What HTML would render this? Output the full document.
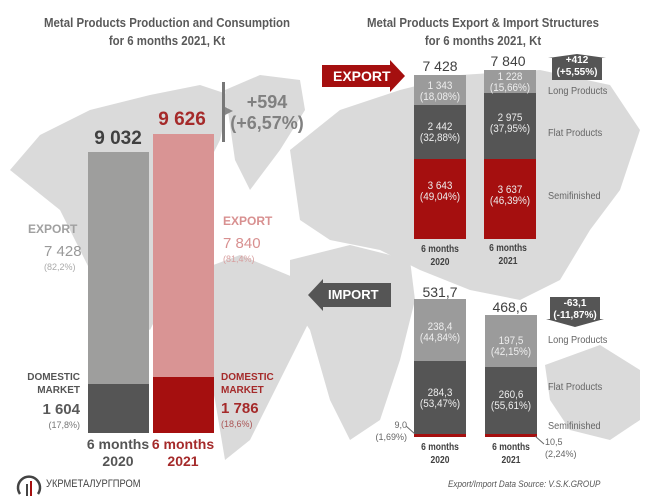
<!DOCTYPE html>
<html><head><meta charset="utf-8"><style>
body{margin:0;width:667px;height:500px;background:#fff;position:relative;overflow:hidden;font-family:"Liberation Sans","Noto Sans CJK SC",sans-serif}
.a{position:absolute;white-space:nowrap}
.c{transform:translateX(-50%);text-align:center}
.t{font-weight:bold;color:#595959;font-size:13px;line-height:18px;transform:translateX(-50%) scaleX(.88);text-align:center}
.b{position:absolute}
.w{color:#eee;font-size:11px;line-height:11px;text-align:center;position:absolute;transform:translateX(-50%) scaleX(.9);white-space:nowrap}
.g{color:#666;font-size:10px;transform:scaleX(.92);transform-origin:left}
.xl{font-size:10px;font-weight:bold;color:#404040;line-height:13px;text-align:center;transform:translateX(-50%) scaleX(.85)}
</style></head><body>
<svg class="b" style="left:0;top:0" width="667" height="500">
<g fill="#dadada">
<path d="M10,170 L40,135 L90,110 L150,95 L200,85 L230,95 L220,140 L200,180 L180,230 L170,290 L150,330 L120,310 L90,270 L60,210 Z"/>
<path d="M225,90 L260,75 L300,80 L305,110 L280,150 L250,190 L235,160 Z"/>
<path d="M200,270 L240,255 L300,280 L310,320 L280,380 L250,440 L225,460 L215,400 L200,330 Z"/>
<path d="M290,150 L340,110 L400,90 L460,75 L540,70 L610,85 L640,130 L620,190 L590,230 L560,280 L520,300 L470,290 L420,270 L380,250 L330,240 L300,220 Z"/>
<path d="M290,260 L350,245 L410,260 L415,300 L400,360 L380,420 L350,440 L330,400 L310,330 L290,300 Z"/>
<path d="M545,365 L600,345 L640,370 L640,420 L610,440 L570,430 L550,400 Z"/>
</g></svg>

<div class="a t" style="left:167px;top:14px">Metal Products Production and Consumption<br>for 6 months 2021, Kt</div>
<div class="a t" style="left:483px;top:14px">Metal Products Export &amp; Import Structures<br>for 6 months 2021, Kt</div>

<!-- left bars -->
<div class="b" style="left:88px;top:152px;width:61px;height:232px;background:#9e9e9d"></div>
<div class="b" style="left:88px;top:384px;width:61px;height:49px;background:#555"></div>
<div class="b" style="left:153px;top:134px;width:61px;height:243px;background:#d99494"></div>
<div class="b" style="left:153px;top:377px;width:61px;height:56px;background:#a50f0f"></div>
<div class="a c" style="left:118px;top:128px;font-size:19px;font-weight:bold;color:#404040">9 032</div>
<div class="a c" style="left:182px;top:109px;font-size:19px;font-weight:bold;color:#a52a2a">9 626</div>
<div class="b" style="left:222px;top:82px;width:3px;height:60px;background:#777"></div>
<div class="b" style="left:225px;top:107px;width:0;height:0;border-left:8px solid #888;border-top:4px solid transparent;border-bottom:4px solid transparent"></div>
<div class="a c" style="left:267px;top:92px;font-size:18px;font-weight:bold;color:#808080;line-height:21px">+594<br>(+6,57%)</div>
<div class="a" style="left:28px;top:222px;font-size:12px;color:#a0a0a0;font-weight:bold">EXPORT</div>
<div class="a" style="left:44px;top:243px;font-size:15px;color:#999">7 428</div>
<div class="a" style="left:44px;top:262px;font-size:9px;color:#aaa">(82,2%)</div>
<div class="a" style="left:223px;top:214px;font-size:12px;color:#d89090;font-weight:bold">EXPORT</div>
<div class="a" style="left:223px;top:235px;font-size:15px;color:#d89090">7 840</div>
<div class="a" style="left:223px;top:254px;font-size:9px;color:#d8a0a0">(81,4%)</div>
<div class="a" style="right:587px;top:371px;font-size:10px;font-weight:bold;color:#555;text-align:right;line-height:13px">DOMESTIC<br>MARKET</div>
<div class="a" style="right:587px;top:401px;font-size:15px;font-weight:bold;color:#595959">1 604</div>
<div class="a" style="right:587px;top:420px;font-size:9px;color:#777">(17,8%)</div>
<div class="a" style="left:221px;top:371px;font-size:10px;font-weight:bold;color:#a52a2a;line-height:13px">DOMESTIC<br>MARKET</div>
<div class="a" style="left:221px;top:400px;font-size:15px;font-weight:bold;color:#a52a2a">1 786</div>
<div class="a" style="left:221px;top:419px;font-size:9px;color:#a55">(18,6%)</div>
<div class="a c" style="left:118px;top:436px;font-size:14px;font-weight:bold;color:#555;line-height:17px">6 months<br>2020</div>
<div class="a c" style="left:183px;top:436px;font-size:14px;font-weight:bold;color:#a52a2a;line-height:17px">6 months<br>2021</div>
<svg class="b" style="left:16px;top:472px" width="26" height="26"><path d="M4,22 A11,11 0 1 1 22,22" fill="none" stroke="#444" stroke-width="2.5"/><rect x="10" y="12" width="2" height="12" fill="#444"/><rect x="14" y="9" width="2" height="15" fill="#a50f0f"/></svg>
<div class="a" style="left:46px;top:478px;font-size:11px;color:#444;transform:scaleX(.85);transform-origin:left">УКРМЕТАЛУРГПРОМ</div>

<!-- export -->
<svg class="b" style="left:322px;top:60px" width="84" height="32"><path d="M0,5 H68 V0 L83,16 L68,32 V27 H0 Z" fill="#a50f0f"/></svg>
<div class="a" style="left:333px;top:68px;font-size:14px;font-weight:bold;color:#fff">EXPORT</div>
<div class="b" style="left:414px;top:75px;width:52px;height:30px;background:#9b9b9b"></div>
<div class="b" style="left:414px;top:105px;width:52px;height:54px;background:#555"></div>
<div class="b" style="left:414px;top:159px;width:52px;height:80px;background:#a50f0f"></div>
<div class="b" style="left:484px;top:70px;width:52px;height:23px;background:#9b9b9b"></div>
<div class="b" style="left:484px;top:93px;width:52px;height:66px;background:#555"></div>
<div class="b" style="left:484px;top:159px;width:52px;height:80px;background:#a50f0f"></div>
<div class="a c" style="left:440px;top:58px;font-size:14px;color:#404040">7 428</div>
<div class="a c" style="left:508px;top:53px;font-size:14px;color:#404040">7 840</div>
<div class="w" style="left:440px;top:81px">1 343<br>(18,08%)</div>
<div class="w" style="left:440px;top:122px">2 442<br>(32,88%)</div>
<div class="w" style="left:440px;top:181px">3 643<br>(49,04%)</div>
<div class="w" style="left:510px;top:72px">1 228<br>(15,66%)</div>
<div class="w" style="left:510px;top:113px">2 975<br>(37,95%)</div>
<div class="w" style="left:510px;top:185px">3 637<br>(46,39%)</div>
<div class="a xl" style="left:440px;top:243px">6 months<br>2020</div>
<div class="a xl" style="left:508px;top:242px">6 months<br>2021</div>
<svg class="b" style="left:548px;top:54px" width="58" height="26"><path d="M0,4 L29,0 L58,4 H54 V26 H4 V4Z" fill="#555"/></svg>
<div class="a c" style="left:577px;top:55px;font-size:10px;font-weight:bold;color:#fff;line-height:12px">+412<br>(+5,55%)</div>
<div class="a g" style="left:548px;top:86px">Long Products</div>
<div class="a g" style="left:548px;top:128px">Flat Products</div>
<div class="a g" style="left:548px;top:191px">Semifinished</div>

<!-- import -->
<svg class="b" style="left:308px;top:279px" width="83" height="32"><path d="M83,4 H15 V0 L0,16 L15,32 V28 H83 Z" fill="#555"/></svg>
<div class="a" style="left:328px;top:287px;font-size:13px;font-weight:bold;color:#fff">IMPORT</div>
<div class="b" style="left:414px;top:299px;width:52px;height:62px;background:#9b9b9b"></div>
<div class="b" style="left:414px;top:361px;width:52px;height:73px;background:#555"></div>
<div class="b" style="left:414px;top:434px;width:52px;height:3px;background:#a50f0f"></div>
<div class="b" style="left:485px;top:315px;width:52px;height:52px;background:#9b9b9b"></div>
<div class="b" style="left:485px;top:367px;width:52px;height:67px;background:#555"></div>
<div class="b" style="left:485px;top:434px;width:52px;height:3px;background:#a50f0f"></div>
<div class="a c" style="left:440px;top:284px;font-size:14px;color:#404040">531,7</div>
<div class="a c" style="left:510px;top:299px;font-size:14px;color:#404040">468,6</div>
<div class="w" style="left:440px;top:322px">238,4<br>(44,84%)</div>
<div class="w" style="left:440px;top:388px">284,3<br>(53,47%)</div>
<div class="w" style="left:511px;top:336px">197,5<br>(42,15%)</div>
<div class="w" style="left:511px;top:390px">260,6<br>(55,61%)</div>
<div class="a xl" style="left:440px;top:441px">6 months<br>2020</div>
<div class="a xl" style="left:511px;top:441px">6 months<br>2021</div>
<svg class="b" style="left:546px;top:297px" width="58" height="30"><path d="M4,0 H54 V22 H58 L29,30 L0,22 H4Z" fill="#555"/></svg>
<div class="a c" style="left:575px;top:298px;font-size:10px;font-weight:bold;color:#fff;line-height:12px">-63,1<br>(-11,87%)</div>
<div class="a g" style="left:548px;top:335px">Long Products</div>
<div class="a g" style="left:548px;top:382px">Flat Products</div>
<div class="a g" style="left:548px;top:421px">Semifinished</div>
<div class="a" style="right:260px;top:419px;font-size:9px;color:#666;text-align:right;line-height:12px">9,0<br>(1,69%)</div>
<svg class="b" style="left:406px;top:426px" width="10" height="10"><line x1="0" y1="0" x2="9" y2="8" stroke="#666"/></svg>
<svg class="b" style="left:535px;top:436px" width="10" height="10"><line x1="0" y1="0" x2="9" y2="8" stroke="#666"/></svg>
<div class="a" style="left:545px;top:436px;font-size:9px;color:#666;line-height:12px">10,5<br>(2,24%)</div>
<div class="a" style="left:448px;top:479px;font-size:9px;color:#555;font-style:italic;transform:scaleX(.9);transform-origin:left">Export/Import Data Source: V.S.K.GROUP</div>
</body></html>
